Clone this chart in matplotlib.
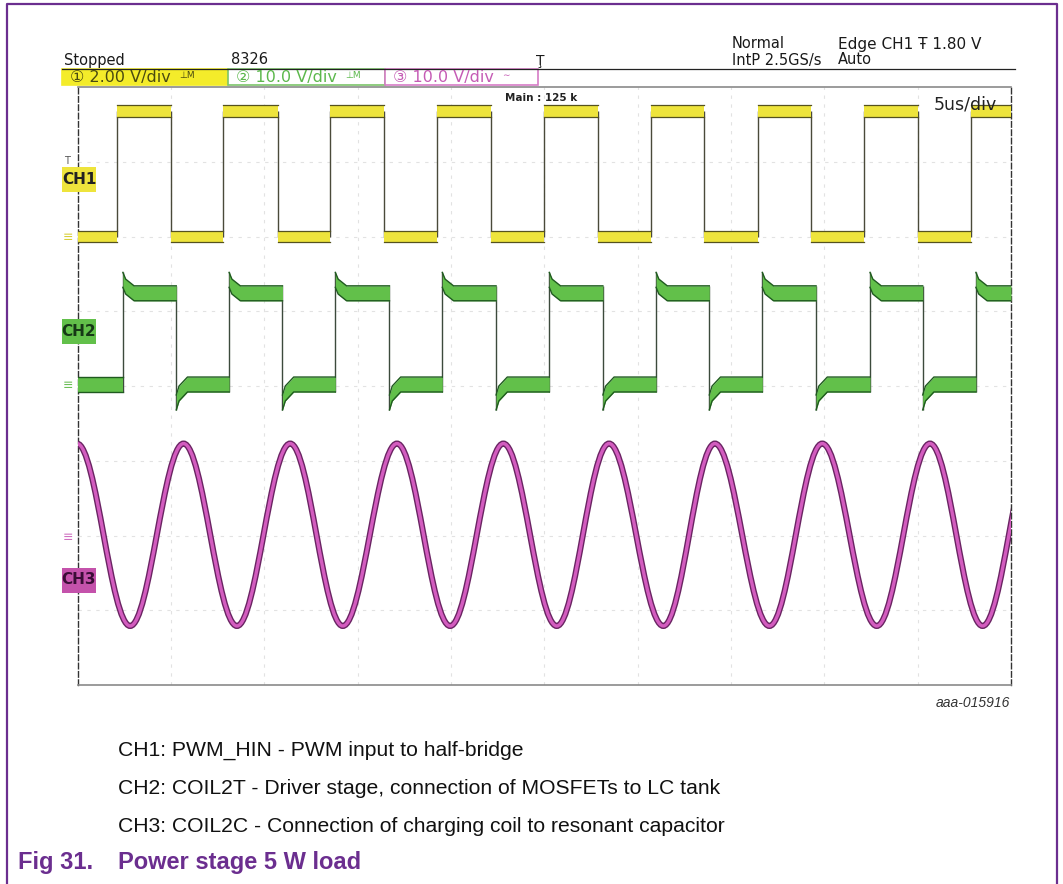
import matplotlib
matplotlib.use("Agg")
import matplotlib.pyplot as plt
from matplotlib.path import Path
from matplotlib.patches import PathPatch, Rectangle

W, H = 1063, 884

# scope setup
time_div = 5.0          # us/div
n_xdiv, n_ydiv = 10, 8
ch1_scale, ch1_offset = 2.0, 2.0    # V/div, position in div
ch2_scale, ch2_offset = 10.0, 0.0
ch3_scale, ch3_offset = 10.0, -2.0

# CH1: PWM_HIN, edge times (us) and levels (V)
ch1_rise = [2.14, 7.82, 13.53, 19.28, 24.99, 30.70, 36.43, 42.11, 47.84]
ch1_fall = [5.02, 10.73, 16.42, 22.14, 27.90, 33.58, 39.29, 45.00]
ch1_low, ch1_high = 0.0, 3.35
ch1_band = 0.32

# CH2: COIL2T
ch2_rise = [2.43, 8.12, 13.81, 19.54, 25.27, 30.99, 36.68, 42.45, 48.12]
ch2_fall = [5.29, 10.98, 16.71, 22.42, 28.14, 33.84, 39.56, 45.27]
ch2_low, ch2_high = 0.2, 12.4
ch2_band = 2.0
ch2_over, ch2_under = 1.8, 2.4
ring_t = [0.0, 0.15, 0.6]       # us after the edge
ring_frac = [1.0, 0.5, 0.0]

# CH3: COIL2C, times of peaks and troughs (us) and their levels (V)
ch3_peak_t = [-0.03, 5.68, 11.39, 17.11, 22.81, 28.47, 34.14, 39.89, 45.66, 51.30]
ch3_trough_t = [2.82, 8.54, 14.21, 19.96, 25.67, 31.38, 37.06, 42.81, 48.48]
ch3_peak_v, ch3_trough_v = 12.3, -12.1

header_left = ["Stopped", "8326"]
header_mode = ["Normal", "IntP 2.5GS/s"]
header_trig = ["Edge CH1 \u0166 1.80 V", "Auto"]
ch_boxes = ["\u2460 2.00 V/div", "\u2461 10.0 V/div", "\u2462 10.0 V/div"]
captions = ["CH1: PWM_HIN - PWM input to half-bridge",
            "CH2: COIL2T - Driver stage, connection of MOSFETs to LC tank",
            "CH3: COIL2C - Connection of charging coil to resonant capacitor"]

yellow, yellow_dk = "#eee43c", "#55521e"
green, green_dk = "#62c04a", "#1f5a1f"
pink, pink_dk = "#d35cbf", "#6a2463"
purple = "#6b2e8f"


def div(v, scale, offset):
    return offset + v / scale


def segments(rise, fall, low, high):
    edges = sorted([(t, high, "r") for t in rise] + [(t, low, "f") for t in fall])
    segs = []
    t0, lev, kind = 0.0, low, None
    for t, new, k in edges:
        segs.append((t0, t, lev, kind))
        t0, lev, kind = t, new, k
    segs.append((t0, n_xdiv * time_div, lev, kind))
    return segs


fig = plt.figure(figsize=(W / 100, H / 100), dpi=100)
fig.patch.set_facecolor("white")

# scope screen
sx0, sx1, sy0, sy1 = 77.5, 1011, 87, 685
ax = fig.add_axes([sx0 / W, 1 - sy1 / H, (sx1 - sx0) / W, (sy1 - sy0) / H])
ax.set_xlim(0, n_xdiv * time_div)
ax.set_ylim(-n_ydiv / 2, n_ydiv / 2)
ax.set_xticks([])
ax.set_yticks([])
for i in range(1, n_xdiv):
    ax.axvline(i * time_div, color="#e2e2e2", lw=0.8, ls=(0, (3, 5)), zorder=0)
for j in range(1, n_ydiv):
    ax.axhline(j - n_ydiv / 2, color="#e2e2e2", lw=0.8, ls=(0, (3, 5)), zorder=0)
for side in ["left", "right"]:
    ax.spines[side].set_linestyle((0, (4, 2)))
    ax.spines[side].set_color("#333333")
    ax.spines[side].set_linewidth(1.0)
for side in ["top", "bottom"]:
    ax.spines[side].set_color("#8a8a8a")
    ax.spines[side].set_linewidth(1.2)

# CH1
h1 = ch1_band / 2 / ch1_scale
y1lo, y1hi = div(ch1_low, ch1_scale, ch1_offset), div(ch1_high, ch1_scale, ch1_offset)
ax.vlines(ch1_rise + ch1_fall, y1lo, y1hi, color="#4a4a3a", lw=1.0, zorder=2)
for t0, t1, lev, kind in segments(ch1_rise, ch1_fall, ch1_low, ch1_high):
    y = div(lev, ch1_scale, ch1_offset)
    ax.fill_between([t0, t1], y - h1, y + h1, color=yellow, lw=0, zorder=3)
    ax.plot([t0, t1], [y + h1, y + h1], color=yellow_dk, lw=0.9, zorder=4)
    ax.plot([t0, t1], [y - h1, y - h1], color=yellow_dk, lw=0.9, zorder=4)

# CH2
h2 = ch2_band / 2 / ch2_scale
y2lo, y2hi = div(ch2_low, ch2_scale, ch2_offset), div(ch2_high, ch2_scale, ch2_offset)
ax.vlines(ch2_rise, y2lo - h2, y2hi + h2 + ch2_over / ch2_scale, color="#3c4a3c", lw=1.0, zorder=2)
ax.vlines(ch2_fall, y2lo - h2 - ch2_under / ch2_scale, y2hi + h2, color="#3c4a3c", lw=1.0, zorder=2)
for t0, t1, lev, kind in segments(ch2_rise, ch2_fall, ch2_low, ch2_high):
    y = div(lev, ch2_scale, ch2_offset)
    if kind is None:
        xs, shift = [t0, t1], [0.0, 0.0]
    else:
        amp = ch2_over if kind == "r" else -ch2_under
        xs = [t0 + dt for dt in ring_t] + [t1]
        shift = [amp * f / ch2_scale for f in ring_frac] + [0.0]
    top = [y + h2 + s for s in shift]
    bot = [y - h2 + s for s in shift]
    ax.fill_between(xs, bot, top, color=green, lw=0, zorder=3)
    ax.plot(xs, top, color=green_dk, lw=1.0, zorder=4)
    ax.plot(xs, bot, color=green_dk, lw=1.0, zorder=4)

# CH3, smooth curve through the measured extremes
pts = sorted([(t, ch3_peak_v) for t in ch3_peak_t] + [(t, ch3_trough_v) for t in ch3_trough_t])
k = 0.3634
verts = [(pts[0][0], div(pts[0][1], ch3_scale, ch3_offset))]
codes = [Path.MOVETO]
for (xa, va), (xb, vb) in zip(pts[:-1], pts[1:]):
    ya, yb = div(va, ch3_scale, ch3_offset), div(vb, ch3_scale, ch3_offset)
    dx = xb - xa
    verts += [(xa + k * dx, ya), (xb - k * dx, yb), (xb, yb)]
    codes += [Path.CURVE4] * 3
path = Path(verts, codes)
ax.add_patch(PathPatch(path, fill=False, ec=pink_dk, lw=4.4, zorder=3))
ax.add_patch(PathPatch(path, fill=False, ec=pink, lw=2.4, zorder=4))

ax.text(0.985, 0.985, "5us/div", transform=ax.transAxes, ha="right", va="top",
        fontsize=12.5, color="#222222", zorder=6)
ax.text(0.458, 0.99, "Main : 125 k", transform=ax.transAxes, ha="left", va="top",
        fontsize=7.5, fontweight="bold", color="#222222", zorder=6)

# page overlay, pixel coordinates
page = fig.add_axes([0, 0, 1, 1])
page.set_xlim(0, W)
page.set_ylim(H, 0)
page.axis("off")
page.patch.set_visible(False)

page.plot([7, 7, 1057, 1057], [H, 4, 4, H], color=purple, lw=1.6)

scope_font = dict(fontsize=10.5, color="#1a1a1a", va="center")
page.text(64, 60, header_left[0], **scope_font)
page.text(231, 60, header_left[1], **scope_font)
page.text(732, 44, header_mode[0], **scope_font)
page.text(732, 60, header_mode[1], **scope_font)
page.text(838, 44, header_trig[0], fontsize=11, color="#1a1a1a", va="center")
page.text(838, 60, header_trig[1], **scope_font)
page.text(536, 61, "\u0162", fontsize=10, color="#1a1a1a", va="center")
page.plot([62, 1015], [69, 69], color="#222222", lw=0.9)

box_x = [62, 228, 385, 538]
box_face = ["#f4ec2a", "white", "white"]
box_edge = ["#f4ec2a", "#7cc46a", "#d67cc6"]
box_text = ["#4a4a10", "#5cb84c", "#c55cb5"]
box_sym = ["\u22a5M", "\u22a5M", "\u223c"]
for i in range(3):
    page.add_patch(Rectangle((box_x[i], 69), box_x[i + 1] - box_x[i], 16,
                             fc=box_face[i], ec=box_edge[i], lw=1.2))
    page.text(box_x[i] + 8, 77.5, ch_boxes[i], fontsize=11.5, color=box_text[i], va="center")
    page.text(box_x[i] + 117, 76, box_sym[i], fontsize=6.5, color=box_text[i], va="center")

# channel markers on the left of the screen
labels = [("CH1", yellow, "#222222", 179), ("CH2", green, "#163816", 331),
          ("CH3", "#c452ab", "#3a0d36", 580)]
for name, fc, tc, yc in labels:
    page.add_patch(Rectangle((62, yc - 12.5), 34, 25, fc=fc, ec="none", zorder=5))
    page.text(79, yc, name, fontsize=11, fontweight="bold", color=tc,
              ha="center", va="center", zorder=6)
page.text(67, 161, "T", fontsize=7, color="#555555", ha="center", va="center")
for yg, c in [(237, "#d8cf3a"), (385, "#6cbf58"), (537, "#cf70c0")]:
    page.text(68, yg, "\u2261", fontsize=9, color=c, ha="center", va="center")

page.text(1010, 703, "aaa-015916", fontsize=10, style="italic", color="#333333",
          ha="right", va="center", family="Liberation Sans")

cap_font = ["Liberation Sans", "DejaVu Sans"]
for i, line in enumerate(captions):
    page.text(118, 750 + 38 * i, line, fontsize=15.2, color="#111111",
              va="center", family=cap_font)

page.text(18, 862, "Fig 31.", fontsize=17, fontweight="bold", color=purple,
          va="center", family=cap_font)
page.text(118, 862, "Power stage 5 W load", fontsize=17, fontweight="bold", color=purple,
          va="center", family=cap_font)

fig.savefig("out.png", dpi=100, facecolor="white")
